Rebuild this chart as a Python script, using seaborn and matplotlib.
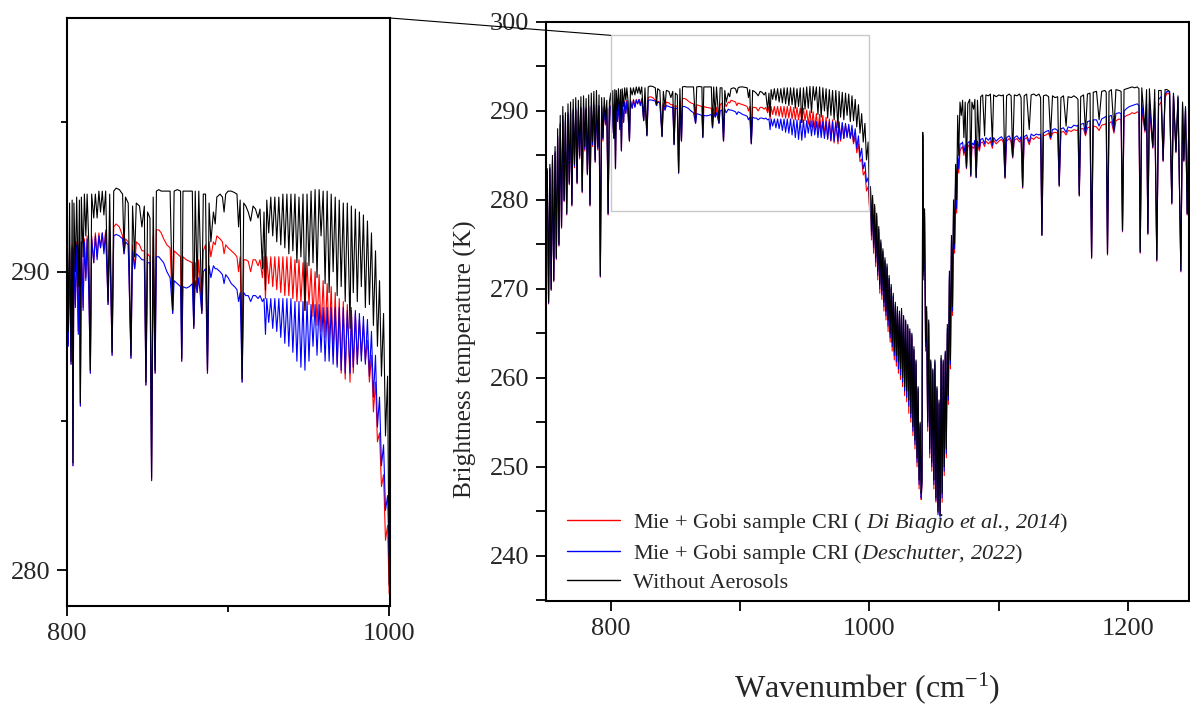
import matplotlib
matplotlib.use("Agg")
import matplotlib.pyplot as plt
import seaborn as sns
import pandas as pd
from matplotlib.lines import Line2D
from matplotlib.patches import Rectangle, ConnectionPatch
from matplotlib.ticker import MultipleLocator

# brightness temperature spectra (K), split by spectral region
# 750-800 cm-1
wn_edge = [750, 751, 752, 753, 754, 755, 756, 757, 758, 759,
           760, 761, 762, 763, 764, 765, 766, 767, 768, 769,
           770, 771, 772, 773, 774, 775, 776, 777, 778, 779,
           780, 781, 782, 783, 784, 785, 786, 787, 788, 789,
           790, 791, 792, 793, 794, 795, 796, 797, 798, 799]
clear_edge = [279.0, 283.5, 268.5, 284.0, 270.0, 285.0, 271.0, 286.0, 273.5, 288.0,
              275.0, 289.5, 277.0, 290.5, 280.0, 289.8, 278.5, 290.8, 282.0, 291.0,
              279.5, 291.3, 284.0, 291.5, 282.0, 291.2, 285.0, 291.6, 281.0, 291.7,
              286.0, 291.4, 283.0, 291.8, 279.5, 292.0, 286.5, 292.2, 284.5, 292.3,
              286.0, 291.8, 271.5, 291.5, 287.0, 291.5, 289.0, 291.2, 278.5, 291.0]
biagio_edge = [278.8, 283.0, 268.3, 283.4, 269.8, 284.3, 270.8, 285.2, 273.3, 287.0,
               274.8, 288.4, 276.8, 289.3, 279.8, 288.8, 278.3, 289.6, 281.7, 289.8,
               279.3, 290.0, 283.6, 290.1, 281.8, 289.9, 284.6, 290.2, 280.8, 290.3,
               285.5, 290.1, 282.8, 290.3, 279.3, 290.4, 286.0, 290.5, 284.2, 290.5,
               285.6, 290.4, 271.3, 290.3, 286.6, 290.3, 288.4, 290.2, 278.3, 290.2]
desch_edge = [278.9, 283.2, 268.4, 283.6, 269.9, 284.5, 270.9, 285.4, 273.4, 287.2,
              274.9, 288.6, 276.9, 289.5, 279.9, 289.0, 278.4, 289.8, 281.8, 290.0,
              279.4, 290.2, 283.8, 290.3, 281.9, 290.1, 284.8, 290.4, 280.9, 290.5,
              285.7, 290.3, 282.9, 290.5, 279.4, 290.6, 286.2, 290.7, 284.3, 290.7,
              285.8, 290.6, 271.4, 290.5, 286.8, 290.5, 288.6, 290.4, 278.4, 290.4]

# 800-923 cm-1 (atmospheric window, isolated lines)
wn_window = [800.0, 800.8, 801.6, 802.5, 803.2, 803.7, 804.3, 805.2, 806.0, 807.0,
             807.7, 808.3, 808.9, 810.0, 810.8, 811.7, 812.5, 813.5, 814.5, 815.3,
             816.6, 817.6, 818.7, 819.8, 820.8, 821.9, 822.9, 824.0, 825.5, 826.5,
             828.0, 829.0, 830.5, 832.5, 834.5, 835.4, 836.3, 838.0, 839.7, 840.7,
             842.0, 843.0, 845.0, 846.5, 848.0, 849.0, 850.0, 851.5, 852.5, 853.5,
             854.7, 855.5, 857.0, 858.5, 860.0, 862.0, 864.0, 865.6, 866.5, 868.5,
             870.5, 871.2, 872.0, 874.0, 876.0, 877.8, 878.7, 879.6, 880.8, 881.8,
             883.7, 884.6, 886.0, 887.2, 888.2, 889.3, 890.9, 892.0, 893.0, 895.0,
             896.5, 897.5, 898.5, 900.0, 902.0, 904.0, 905.5, 906.5, 907.5, 908.7,
             909.7, 911.0, 912.5, 914.0, 915.5, 917.0, 918.6, 919.8, 921.3, 922.3,
             923.2]
clear_window = [292.0, 288.0, 292.3, 287.0, 292.4, 283.6, 292.3, 290.0, 292.5, 289.5,
                292.4, 285.6, 292.5, 290.5, 292.6, 291.2, 292.6, 291.0, 286.7, 292.6,
                291.8, 292.6, 291.8, 292.7, 292.0, 292.7, 291.9, 292.7, 289.0, 292.6,
                287.3, 292.7, 292.8, 292.75, 292.6, 290.7, 292.5, 292.3, 287.2, 292.2,
                290.5, 292.3, 292.2, 291.5, 292.2, 286.3, 292.0, 291.8, 283.1, 292.5,
                286.7, 292.7, 292.75, 292.7, 292.7, 292.7, 292.7, 288.7, 292.7, 292.75,
                292.7, 287.1, 292.7, 292.7, 292.7, 292.7, 288.2, 292.7, 289.5, 292.7,
                288.7, 292.6, 292.6, 286.7, 292.3, 291.0, 292.0, 291.6, 292.5, 292.6,
                292.5, 292.0, 292.6, 292.7, 292.7, 292.65, 292.6, 291.5, 292.4, 286.4,
                292.3, 292.2, 292.0, 291.7, 292.2, 292.1, 291.8, 292.1, 290.1, 292.0,
                289.4]
biagio_window = [290.6, 287.6, 290.8, 286.9, 290.9, 283.5, 290.8, 288.9, 291.0, 288.0,
                 291.0, 285.5, 291.0, 288.8, 291.1, 289.8, 291.2, 289.5, 286.6, 291.2,
                 290.3, 291.3, 290.5, 291.3, 290.8, 291.3, 290.7, 291.4, 288.9, 291.4,
                 287.2, 291.5, 291.6, 291.5, 291.2, 290.6, 291.1, 291.0, 287.1, 290.9,
                 290.1, 291.0, 290.9, 290.7, 290.7, 286.2, 290.6, 290.5, 283.0, 291.2,
                 286.6, 291.4, 291.4, 291.3, 291.1, 290.9, 290.8, 288.6, 290.7, 290.6,
                 290.5, 287.0, 290.5, 290.4, 290.35, 290.3, 288.1, 290.3, 289.3, 290.4,
                 288.6, 290.7, 290.9, 286.6, 291.0, 290.5, 291.0, 290.9, 291.2, 291.1,
                 291.0, 290.6, 290.9, 290.8, 290.7, 290.6, 290.5, 290.0, 290.5, 286.3,
                 290.4, 290.4, 290.35, 290.0, 290.4, 290.4, 290.2, 290.4, 289.8, 290.5,
                 289.1]
desch_window = [290.5, 287.5, 290.7, 286.9, 290.8, 283.5, 290.7, 288.8, 290.9, 287.9,
                290.9, 285.5, 291.0, 288.7, 291.0, 289.7, 291.1, 289.4, 286.6, 291.1,
                290.3, 291.2, 290.4, 291.2, 290.8, 291.3, 290.6, 291.3, 288.9, 291.3,
                287.2, 291.2, 291.25, 291.2, 291.1, 290.6, 291.0, 290.9, 287.1, 290.7,
                290.1, 290.6, 290.5, 290.4, 290.4, 286.2, 290.3, 290.3, 283.0, 290.5,
                286.6, 290.5, 290.5, 290.4, 290.3, 290.0, 289.8, 288.6, 289.7, 289.6,
                289.5, 287.0, 289.5, 289.45, 289.5, 289.6, 288.1, 289.7, 289.3, 289.8,
                288.6, 290.0, 290.1, 286.6, 290.2, 289.8, 290.2, 290.1, 290.1, 290.0,
                289.9, 289.6, 289.9, 289.8, 289.6, 289.5, 289.4, 289.0, 289.3, 286.3,
                289.3, 289.2, 289.2, 289.0, 289.2, 289.2, 289.1, 289.2, 289.0, 289.1,
                287.9]

# 924-1000 cm-1 (dense line comb at the window edge)
wn_comb = [924.0, 925.2, 926.5, 927.7, 929.0, 930.2, 931.5, 932.7, 934.0, 935.2,
           936.5, 937.7, 939.0, 940.2, 941.5, 942.7, 944.0, 945.2, 946.5, 947.7,
           949.0, 950.2, 951.5, 952.7, 954.0, 955.2, 956.5, 957.7, 959.0, 960.2,
           961.5, 962.7, 964.0, 965.2, 966.5, 967.7, 969.0, 970.2, 971.5, 972.7,
           974.0, 975.7, 976.5, 977.7, 979.0, 980.2, 981.5, 982.7, 984.0, 985.2,
           986.5, 987.7, 989.0, 990.2, 991.5, 992.7, 994.0, 995.2, 996.5, 997.7,
           999.0, 1000.0]
clear_comb = [292.4, 291.3, 292.5, 291.2, 292.5, 291.0, 292.5, 290.9, 292.6, 290.8,
              292.6, 290.6, 292.6, 290.7, 292.6, 290.3, 292.5, 290.5, 292.6, 288.7,
              292.6, 290.2, 292.7, 290.3, 292.75, 289.8, 292.75, 291.2, 292.7, 289.6,
              292.7, 289.3, 292.6, 290.0, 292.5, 289.2, 292.4, 289.5, 292.3, 289.0,
              292.3, 288.1, 292.2, 289.3, 292.1, 289.0, 292.0, 289.5, 291.9, 288.8,
              291.7, 288.9, 291.3, 288.2, 290.7, 287.5, 289.7, 286.5, 288.6, 284.5,
              286.5, 279.5]
biagio_comb = [290.5, 289.6, 290.5, 289.5, 290.5, 289.4, 290.5, 289.3, 290.5, 289.2,
               290.5, 289.2, 290.5, 289.1, 290.4, 289.0, 290.4, 289.0, 290.3, 288.7,
               290.3, 288.9, 290.1, 288.5, 290.0, 288.2, 289.9, 288.0, 289.7, 287.8,
               289.6, 287.6, 289.5, 287.2, 289.3, 286.9, 289.1, 286.6, 289.0, 286.4,
               288.9, 286.3, 288.8, 286.6, 288.6, 286.9, 288.4, 287.2, 288.2, 287.0,
               287.7, 286.3, 287.2, 285.3, 286.3, 284.3, 284.6, 282.8, 283.2, 281.0,
               281.5, 279.2]
desch_comb = [289.1, 288.3, 289.1, 288.1, 289.1, 288.0, 289.1, 287.8, 289.1, 287.6,
              289.1, 287.5, 289.1, 287.3, 289.0, 287.0, 289.0, 286.8, 289.0, 286.7,
              289.0, 287.0, 288.9, 287.5, 288.9, 287.2, 288.9, 287.3, 288.8, 287.0,
              288.8, 287.0, 288.8, 286.9, 288.8, 286.8, 288.8, 286.7, 288.8, 286.6,
              288.7, 286.6, 288.7, 286.8, 288.7, 286.9, 288.6, 287.0, 288.5, 286.9,
              288.4, 286.5, 288.0, 285.8, 287.2, 284.8, 285.8, 283.5, 284.2, 282.0,
              282.5, 280.4]

# 1000-1070 cm-1 (ozone band)
wn_ozone = [1000.8, 1001.6, 1002.4, 1003.2, 1004.0, 1004.8, 1005.6, 1006.4, 1007.2, 1008.0,
            1008.8, 1009.6, 1010.4, 1011.2, 1012.0, 1012.8, 1013.6, 1014.4, 1015.2, 1016.0,
            1016.8, 1017.6, 1018.4, 1019.2, 1020.0, 1020.8, 1021.6, 1022.4, 1023.2, 1024.0,
            1024.8, 1025.6, 1026.4, 1027.2, 1028.0, 1028.8, 1029.6, 1030.4, 1031.2, 1032.0,
            1032.8, 1033.6, 1034.4, 1035.2, 1036.0, 1036.8, 1037.6, 1038.4, 1039.2, 1040.0,
            1040.6, 1041.2, 1041.8, 1042.6, 1043.4, 1044.2, 1045.0, 1045.8, 1046.6, 1047.4,
            1048.2, 1049.0, 1049.8, 1050.6, 1051.4, 1052.2, 1053.0, 1053.8, 1054.6, 1055.4,
            1056.2, 1057.0, 1057.8, 1058.6, 1059.4, 1060.2, 1061.0, 1061.8, 1062.6, 1063.4,
            1064.2, 1065.0, 1065.8, 1066.6, 1067.4, 1068.2, 1069.0, 1070.0]
clear_ozone = [281.5, 276.5, 280.5, 275.0, 279.5, 273.5, 278.5, 272.0, 277.0, 270.5,
               275.5, 269.8, 274.5, 268.5, 273.5, 267.5, 272.8, 266.5, 271.5, 265.0,
               270.5, 264.0, 269.5, 263.0, 268.5, 262.5, 268.0, 261.8, 267.5, 261.0,
               267.8, 260.0, 267.0, 259.0, 266.5, 258.5, 266.0, 257.5, 265.5, 256.0,
               265.0, 254.5, 263.5, 253.0, 262.0, 251.0, 259.0, 248.5, 255.0, 247.0,
               248.5, 287.6, 272.0, 279.0, 264.0, 268.0, 255.0, 266.5, 252.0, 262.0,
               250.5, 261.0, 248.5, 262.0, 246.5, 259.0, 245.0, 257.5, 244.5, 262.5,
               247.0, 262.0, 250.0, 263.0, 252.0, 266.0, 258.0, 272.0, 262.0, 276.0,
               268.0, 280.0, 275.0, 284.0, 280.0, 289.5, 285.0, 291.0]
biagio_ozone = [281.0, 275.5, 280.0, 274.0, 279.0, 272.5, 277.8, 271.0, 276.3, 269.5,
                275.0, 268.8, 274.0, 267.5, 273.0, 266.5, 272.3, 265.2, 271.0, 264.0,
                270.0, 263.0, 269.0, 262.0, 268.0, 261.3, 267.5, 260.5, 267.0, 259.8,
                267.3, 259.0, 266.5, 258.0, 266.0, 257.3, 265.5, 256.0, 265.0, 255.0,
                264.5, 253.5, 263.0, 252.0, 261.5, 250.0, 258.5, 247.5, 254.5, 246.3,
                248.0, 287.0, 271.0, 278.0, 263.0, 267.0, 254.0, 266.0, 251.0, 261.5,
                249.5, 260.5, 247.5, 261.5, 246.0, 258.5, 244.8, 257.0, 244.5, 262.0,
                246.0, 261.5, 249.0, 262.5, 251.0, 265.0, 257.0, 271.0, 261.0, 275.0,
                267.0, 278.5, 274.0, 282.0, 278.5, 284.5, 283.0, 285.5]
desch_ozone = [281.3, 276.0, 280.3, 274.6, 279.3, 273.0, 278.2, 271.5, 276.7, 270.0,
               275.2, 269.3, 274.2, 268.0, 273.2, 267.0, 272.5, 265.8, 271.2, 264.5,
               270.2, 263.5, 269.2, 262.5, 268.2, 261.8, 267.7, 261.0, 267.2, 260.3,
               267.5, 259.5, 266.8, 258.5, 266.3, 257.8, 265.8, 256.8, 265.2, 255.5,
               264.8, 254.0, 263.2, 252.5, 261.8, 250.5, 258.8, 248.0, 254.8, 246.5,
               248.2, 287.3, 271.5, 278.5, 263.5, 267.5, 254.5, 266.2, 251.5, 261.8,
               250.0, 260.8, 248.0, 261.8, 246.2, 258.8, 244.6, 257.2, 244.3, 262.2,
               246.5, 261.8, 249.5, 262.8, 251.5, 265.5, 257.5, 271.5, 261.5, 275.5,
               267.5, 279.0, 274.5, 282.5, 279.0, 285.0, 283.5, 286.3]

# 1070-1247 cm-1
wn_tail = [1071.0, 1072.0, 1073.0, 1074.0, 1075.0, 1076.0, 1077.5, 1078.3, 1079.2, 1080.5,
           1081.5, 1082.5, 1083.5, 1085.0, 1086.0, 1087.5, 1089.0, 1090.0, 1092.0, 1093.5,
           1095.0, 1096.0, 1098.0, 1100.0, 1102.0, 1103.5, 1104.8, 1106.0, 1108.0, 1109.5,
           1110.7, 1112.0, 1114.0, 1116.0, 1117.2, 1118.4, 1119.6, 1121.5, 1123.5, 1125.0,
           1127.0, 1129.0, 1131.0, 1132.3, 1133.3, 1134.5, 1136.5, 1138.5, 1140.0, 1141.5,
           1143.5, 1145.5, 1146.7, 1148.0, 1150.0, 1152.0, 1153.5, 1156.0, 1158.0, 1160.0,
           1161.2, 1162.2, 1163.3, 1165.5, 1167.0, 1168.5, 1170.5, 1171.7, 1173.0, 1175.5,
           1177.5, 1179.5, 1182.0, 1183.0, 1184.0, 1185.2, 1187.0, 1189.0, 1190.5, 1193.0,
           1194.5, 1195.6, 1196.8, 1199.0, 1201.0, 1203.0, 1205.0, 1207.0, 1208.3, 1209.3,
           1210.5, 1213.0, 1214.2, 1215.2, 1216.4, 1219.0, 1220.5, 1222.1, 1223.5, 1225.5,
           1227.0, 1228.5, 1230.0, 1232.0, 1233.7, 1235.0, 1236.9, 1238.5, 1240.7, 1242.0,
           1243.0, 1244.3, 1245.6, 1247.0]
clear_tail = [289.5, 291.2, 287.0, 291.0, 283.7, 290.8, 291.3, 282.8, 291.0, 290.2,
              291.3, 282.6, 291.2, 286.0, 291.6, 291.8, 287.2, 291.8, 291.7, 291.9,
              286.5, 291.8, 291.6, 291.8, 291.7, 291.8, 282.6, 291.7, 291.9, 291.7,
              284.9, 291.8, 291.7, 291.9, 291.5, 281.5, 291.7, 291.9, 287.9, 291.8,
              291.9, 291.7, 291.9, 291.5, 276.1, 291.7, 291.8, 291.6, 287.2, 291.7,
              291.5, 291.6, 281.7, 291.5, 291.7, 288.3, 291.6, 291.5, 291.7, 291.5,
              291.3, 280.6, 291.6, 291.8, 287.6, 291.9, 292.0, 273.6, 292.1, 292.2,
              289.0, 292.2, 292.3, 292.1, 274.0, 292.2, 292.4, 287.9, 292.4, 292.3,
              292.2, 276.6, 292.4, 292.5, 292.6, 292.7, 292.6, 292.7, 292.5, 274.2,
              292.6, 287.9, 292.4, 276.3, 292.5, 286.0, 292.4, 273.3, 292.3, 292.3,
              284.5, 292.4, 292.4, 292.2, 279.7, 292.0, 285.5, 291.7, 272.1, 291.0,
              284.5, 290.5, 278.5, 290.0]
biagio_tail = [285.8, 286.0, 285.0, 285.8, 283.5, 286.0, 286.2, 282.6, 286.0, 285.8,
               286.3, 282.5, 286.2, 285.5, 286.4, 286.5, 286.0, 286.6, 286.3, 286.6,
               285.8, 286.7, 286.3, 286.6, 286.8, 286.5, 282.4, 286.6, 286.9, 286.5,
               284.7, 286.7, 286.9, 286.5, 286.8, 281.3, 286.8, 287.0, 286.2, 287.0,
               286.8, 287.1, 286.9, 287.0, 276.0, 287.2, 287.3, 287.5, 286.8, 287.5,
               287.6, 287.5, 281.5, 287.6, 287.7, 287.3, 287.8, 287.7, 287.9, 287.8,
               287.9, 280.4, 288.0, 288.0, 287.2, 288.1, 288.2, 273.4, 288.3, 288.2,
               287.8, 288.4, 288.5, 288.6, 273.8, 288.6, 288.8, 287.5, 288.9, 289.1,
               289.0, 276.4, 289.3, 289.5, 289.6, 289.8, 289.7, 289.9, 289.8, 274.0,
               290.0, 287.6, 290.1, 276.1, 290.2, 285.8, 290.3, 273.1, 290.6, 291.0,
               284.3, 291.5, 292.0, 291.9, 279.5, 291.6, 285.3, 291.2, 271.9, 290.5,
               284.3, 290.0, 278.3, 289.6]
desch_tail = [286.3, 286.5, 285.3, 286.2, 283.6, 286.4, 286.6, 282.7, 286.4, 286.2,
              286.7, 282.5, 286.6, 285.8, 286.8, 286.9, 286.3, 287.0, 286.7, 287.0,
              286.1, 287.0, 286.6, 286.9, 287.1, 286.8, 282.5, 287.0, 287.2, 286.8,
              284.8, 287.0, 287.2, 286.8, 287.1, 281.4, 287.1, 287.3, 286.5, 287.4,
              287.2, 287.4, 287.3, 287.4, 276.0, 287.5, 287.7, 287.8, 287.0, 287.9,
              288.0, 287.8, 281.6, 288.0, 288.1, 287.6, 288.2, 288.1, 288.4, 288.3,
              288.4, 280.5, 288.5, 288.6, 287.4, 288.8, 288.9, 273.5, 289.0, 289.0,
              288.3, 289.1, 289.3, 289.4, 273.9, 289.4, 289.5, 287.7, 289.7, 289.8,
              289.7, 276.5, 290.0, 290.3, 290.5, 290.6, 290.7, 290.8, 290.6, 274.1,
              290.8, 287.8, 290.8, 276.2, 290.9, 285.9, 291.0, 273.2, 291.3, 291.6,
              284.4, 291.9, 292.2, 292.1, 279.6, 291.8, 285.4, 291.5, 272.0, 290.8,
              284.4, 290.3, 278.4, 289.8]

# the italic citation uses \mathsf, which is mapped to the italic serif face below;
# \! takes back the extra space mathtext puts after "." and ","
labels = {
    "biagio": "Mie + Gobi sample CRI ( $\\mathsf{Di\\ Biagio\\ et\\ al.\\!,\\!\\ 2014}$)",
    "desch": "Mie + Gobi sample CRI ($\\mathsf{Deschutter,\\!\\ 2022}$)",
    "clear": "Without Aerosols",
}
colors = {"biagio": "#ff0000", "desch": "#0000ff", "clear": "#000000"}
order = ["biagio", "desch", "clear"]

df = pd.DataFrame({
    "wn": wn_edge + wn_window + wn_comb + wn_ozone + wn_tail,
    "clear": clear_edge + clear_window + clear_comb + clear_ozone + clear_tail,
    "biagio": biagio_edge + biagio_window + biagio_comb + biagio_ozone + biagio_tail,
    "desch": desch_edge + desch_window + desch_comb + desch_ozone + desch_tail,
})
long = df.melt(id_vars="wn", var_name="case", value_name="bt")

sns.set_style("ticks")
plt.rcParams["font.family"] = ["Liberation Serif", "DejaVu Serif"]
plt.rcParams["mathtext.fontset"] = "custom"
plt.rcParams["mathtext.rm"] = "Liberation Serif"
plt.rcParams["mathtext.it"] = "Liberation Serif:italic"
plt.rcParams["mathtext.sf"] = "Liberation Serif:italic"

W, H = 1190, 707
fig = plt.figure(figsize=(W / 100, H / 100), dpi=100)
ax = fig.add_axes([546 / W, 1 - 601 / H, (1189 - 546) / W, (601 - 22) / H])
axz = fig.add_axes([67 / W, 1 - 606 / H, (390 - 67) / W, (606 - 18) / H])

for a in (ax, axz):
    sns.lineplot(data=long, x="wn", y="bt", hue="case", hue_order=order,
                 palette=colors, estimator=None, sort=False, lw=0.8,
                 legend=False, ax=a)
    a.set_xlabel("")
    a.set_ylabel("")
    for s in a.spines.values():
        s.set_linewidth(1.5)
        s.set_color("black")
        s.set_visible(True)

# main panel
ax.set_xlim(750, 1247)
ax.set_ylim(234.9, 300)
ax.set_xticks([800, 1000, 1200])
ax.set_xticks([900, 1100], minor=True)
ax.set_yticks(range(240, 301, 10))
ax.yaxis.set_minor_locator(MultipleLocator(5))
ax.tick_params(which="both", direction="out", length=7, width=1.3,
               labelsize=19, color="black", pad=5)
ax.set_xlabel("Wavenumber (cm$^{-1}$)", fontsize=23, labelpad=22)
ax.set_ylabel("Brightness temperature (K)", fontsize=18.3)
ax.yaxis.set_label_coords(-0.108, 0.418)

ax.add_patch(Rectangle((800, 278.8), 200, 19.7, fill=False,
                       ec="#c8c8c8", lw=1.0, zorder=5))

handles = [Line2D([], [], color=colors[k], lw=1.0) for k in order]
ax.legend(handles, [labels[k] for k in order], loc="lower left",
          bbox_to_anchor=(0.015, -0.005), frameon=False, fontsize=16,
          handlelength=2.4, handletextpad=0.6, labelspacing=0.3,
          borderaxespad=0.1)

# zoomed panel
axz.set_xlim(800, 1000.5)
axz.set_ylim(278.8, 298.5)
axz.set_xticks([800, 1000])
axz.set_xticks([900], minor=True)
axz.set_yticks([280, 290])
axz.set_yticks([285, 295], minor=True)
axz.tick_params(which="major", direction="out", length=7, width=1.3,
                labelsize=19, color="black", pad=5)
axz.tick_params(which="minor", direction="out", length=4, width=1.3,
                color="black")

con = ConnectionPatch(xyA=(1, 1), coordsA=axz.transAxes,
                      xyB=(800, 298.5), coordsB=ax.transData,
                      color="black", lw=0.8)
fig.add_artist(con)

fig.savefig("out.png", dpi=100)
